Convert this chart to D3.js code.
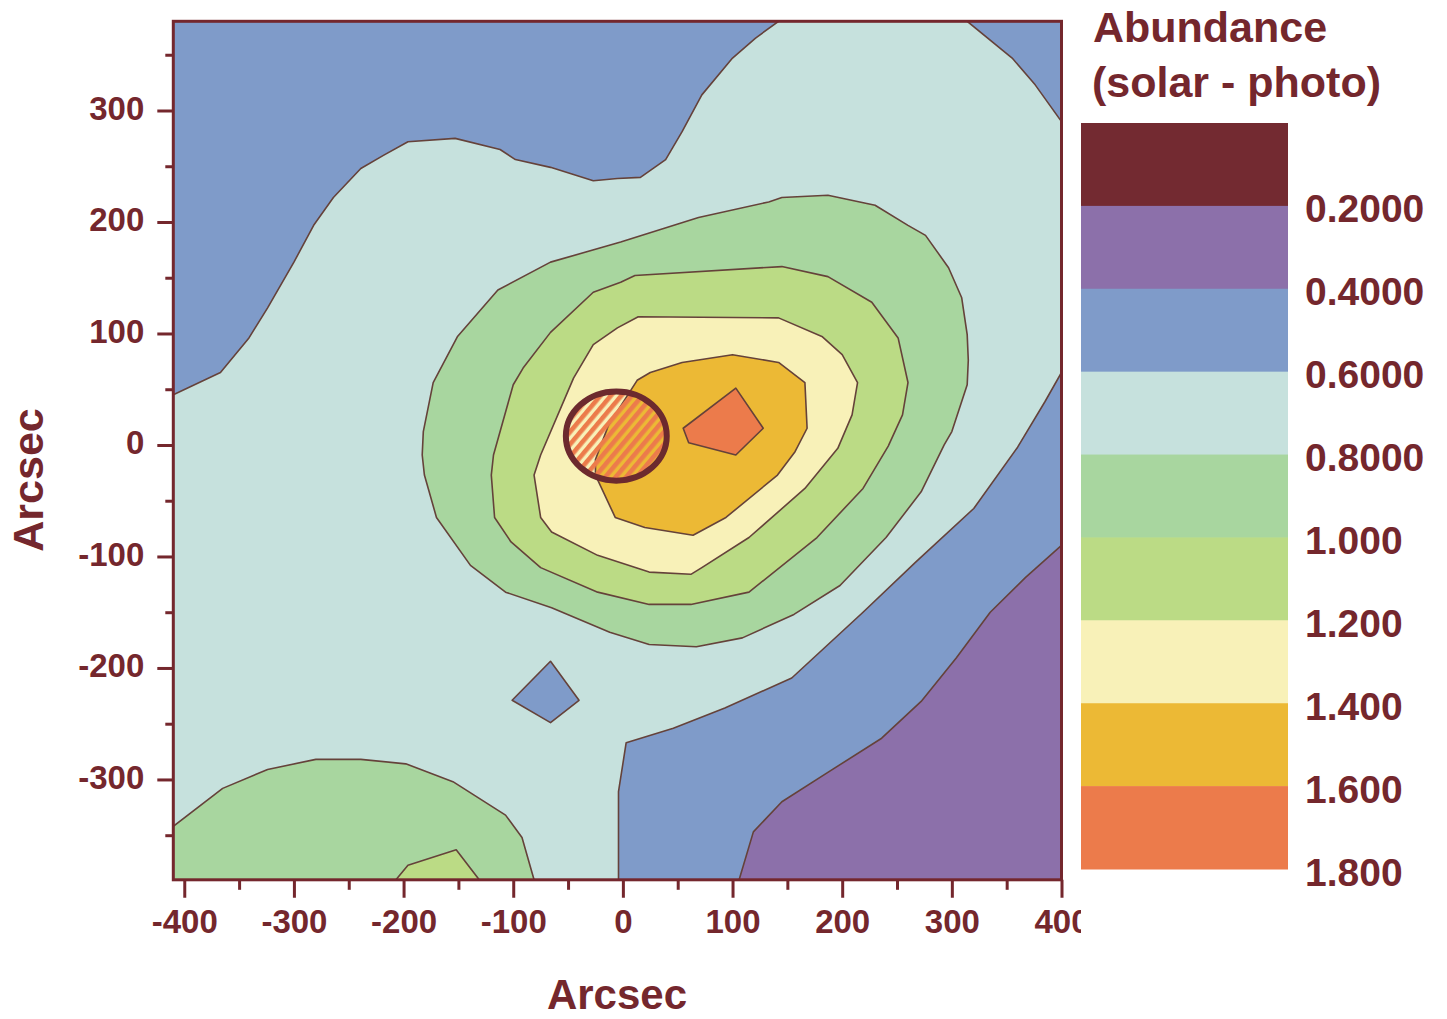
<!DOCTYPE html>
<html>
<head>
<meta charset="utf-8">
<script src="https://cdnjs.cloudflare.com/ajax/libs/d3/7.8.5/d3.min.js"></script>
<style>
  body { margin: 0; background: #fff; }
  svg { display: block; font-family: "Liberation Sans", Arial, sans-serif; font-weight: bold; }
</style>
</head>
<body>
<svg id="chart" width="1447" height="1019"></svg>
<script>
// colour levels (legend runs top to bottom)
const levelBreaks = [0.2, 0.4, 0.6, 0.8, 1.0, 1.2, 1.4, 1.6];
const levelColors = ["#732a31", "#8c70aa", "#7f9bc9", "#c6e1dd", "#a8d69f", "#bbdb85", "#f8f1b8", "#ecb935", "#ec7b4b"];
const legendLabels = ["0.2000", "0.4000", "0.6000", "0.8000", "1.000", "1.200", "1.400", "1.600", "1.800"];

const xTicks = [-400, -300, -200, -100, 0, 100, 200, 300, 400];
const xMinor = [-350, -250, -150, -50, 50, 150, 250, 350];
const yTicks = [-300, -200, -100, 0, 100, 200, 300];
const yMinor = [-350, -250, -150, -50, 50, 150, 250, 350];

// contour outlines, in arcsec
const field = [[-410, -390], [-410, 380], [400, 380], [400, -390]];
const contour06 = [[-410, -390], [-410, 45], [-367, 65], [-341, 96], [-324, 123], [-300, 164], [-282, 197],
  [-264, 222], [-239, 248], [-218, 260], [-196, 272], [-153, 275], [-112, 265], [-98, 256], [-66, 249],
  [-27, 237], [-5, 239], [16, 240], [39, 256], [54, 281], [72, 314], [100, 347], [121, 365], [142, 380],
  [314, 380], [355, 347], [376, 323], [400, 290], [400, 65], [385, 39], [360, -2], [320, -57], [267, -105],
  [219, -150], [154, -209], [93, -236], [46, -254], [3, -267], [-4, -311], [-4, -390]];
const contour04 = [[400, -90], [367, -119], [335, -150], [304, -191], [272, -230], [236, -263], [188, -293],
  [145, -320], [119, -347], [106, -390], [400, -390]];
const dip06 = [[-66, -194], [-40, -229], [-66, -249], [-101, -229]];
const south08 = [[-410, -390], [-410, -342], [-365, -308], [-324, -291], [-280, -282], [-239, -282],
  [-198, -286], [-155, -302], [-107, -332], [-92, -352], [-81, -390]];
const south10 = [[-207, -390], [-196, -377], [-152, -363], [-131, -390]];
const core08 = [[-2, 182], [69, 204], [133, 218], [145, 222], [187, 224], [230, 215], [260, 197], [276, 188],
  [297, 159], [309, 132], [314, 99], [315, 76], [314, 54], [300, 12], [293, 0], [272, -42], [240, -83],
  [198, -126], [156, -152], [109, -173], [67, -181], [24, -179], [-12, -168], [-65, -146], [-107, -132],
  [-139, -108], [-170, -65], [-181, -27], [-183, -9], [-182, 12], [-173, 56], [-151, 97], [-114, 139], [-66, 164]];
const core10 = [[-2, 146], [11, 152], [145, 160], [187, 151], [227, 128], [251, 96], [260, 56], [255, 27],
  [242, -1], [219, -39], [177, -83], [115, -132], [62, -143], [24, -143], [-23, -132], [-75, -110],
  [-102, -87], [-117, -65], [-120, -27], [-118, -9], [-100, 54], [-91, 69], [-66, 101], [-27, 137]];
const core12 = [[14, 115], [142, 114], [182, 97], [200, 81], [214, 56], [209, 27], [196, -3], [166, -39],
  [115, -83], [72, -110], [62, -116], [24, -114], [-23, -99], [-65, -78], [-75, -65], [-81, -27], [-75, -9],
  [-45, 60], [-27, 90], [-5, 105]];
const core14 = [[13, 58], [25, 65], [54, 74], [100, 81], [142, 74], [166, 56], [168, 15], [157, -6], [141, -27],
  [94, -65], [64, -81], [20, -74], [-7, -65], [-25, -27], [-25, -13], [-13, 18]];
const core16 = [[103, 51], [128, 15], [103, -9], [60, 2], [55, 15]];

// hatched field-of-view marker
const fovCentre = [-6, 8];
const fovRadius = [46, 40];

const layers = [
  { pts: field, v: 0.5, line: false },
  { pts: contour06, v: 0.7 },
  { pts: contour04, v: 0.3 },
  { pts: dip06, v: 0.5 },
  { pts: south08, v: 0.9 },
  { pts: south10, v: 1.1 },
  { pts: core08, v: 0.9 },
  { pts: core10, v: 1.1 },
  { pts: core12, v: 1.3 },
  { pts: core14, v: 1.5 },
  { pts: core16, v: 1.7 }
];

const ink = "#74272d";
const svg = d3.select("#chart");
const x = d3.scaleLinear().domain([-410, 400]).range([173.3, 1061.5]);
const y = d3.scaleLinear().domain([-390, 380]).range([879.8, 21.3]);
const color = d3.scaleThreshold().domain(levelBreaks).range(levelColors);

const defs = svg.append("defs");
defs.append("clipPath").attr("id", "plotClip")
  .append("rect")
  .attr("x", x(-410)).attr("y", y(380))
  .attr("width", x(400) - x(-410)).attr("height", y(-390) - y(380));

const hatch = defs.append("pattern")
  .attr("id", "hatch")
  .attr("patternUnits", "userSpaceOnUse")
  .attr("width", 8).attr("height", 8)
  .attr("patternTransform", "rotate(40)");
hatch.append("rect").attr("x", 0).attr("y", 0).attr("width", 4.6).attr("height", 8)
  .attr("fill", levelColors[8]);

const line = d3.line().x(d => x(d[0])).y(d => y(d[1])).curve(d3.curveLinearClosed);

const map = svg.append("g").attr("clip-path", "url(#plotClip)");
map.selectAll("path.level").data(layers)
  .join("path")
  .attr("class", "level")
  .attr("d", d => line(d.pts))
  .attr("fill", d => color(d.v))
  .attr("stroke", d => d.line === false ? "none" : "#65423a")
  .attr("stroke-width", 1.6)
  .attr("stroke-linejoin", "round");

map.append("ellipse")
  .attr("cx", x(fovCentre[0])).attr("cy", y(fovCentre[1]))
  .attr("rx", x(fovRadius[0]) - x(0)).attr("ry", y(0) - y(fovRadius[1]))
  .attr("fill", "url(#hatch)")
  .attr("stroke", "#6c2a2e")
  .attr("stroke-width", 6);

// axes
const fmt = d => String(d);
const xAxis = svg.append("g")
  .attr("transform", `translate(0,${y(-390)})`);
defs.append("clipPath").attr("id", "xLabelClip")
  .append("rect").attr("x", 0).attr("y", -20).attr("width", 1081).attr("height", 200);
xAxis.append("g").attr("clip-path", "url(#xLabelClip)")
  .call(d3.axisBottom(x).tickValues(xTicks).tickSize(18).tickPadding(12).tickFormat(fmt));
xAxis.append("g")
  .call(d3.axisBottom(x).tickValues(xMinor).tickSize(10).tickFormat(""));

const yAxis = svg.append("g")
  .attr("transform", `translate(${x(-410)},0)`);
yAxis.append("g")
  .call(d3.axisLeft(y).tickValues(yTicks).tickSize(16).tickPadding(13).tickFormat(fmt));
yAxis.append("g")
  .call(d3.axisLeft(y).tickValues(yMinor).tickSize(8).tickFormat(""));

svg.selectAll(".domain").remove();
svg.selectAll(".tick line").attr("stroke", ink).attr("stroke-width", 3);
svg.selectAll(".tick text")
  .attr("fill", ink)
  .style("font-size", "33px")
  .style("font-family", "'Liberation Sans', Arial, sans-serif")
  .style("font-weight", "bold");
yAxis.selectAll(".tick text").attr("dy", "0.27em");

// frame
svg.append("rect")
  .attr("x", x(-410)).attr("y", y(380))
  .attr("width", x(400) - x(-410)).attr("height", y(-390) - y(380))
  .attr("fill", "none")
  .attr("stroke", ink)
  .attr("stroke-width", 3);

// axis titles
svg.append("text")
  .attr("x", 617).attr("y", 1009)
  .attr("text-anchor", "middle")
  .attr("fill", ink)
  .style("font-size", "42px")
  .text("Arcsec");
svg.append("text")
  .attr("transform", "translate(43,480) rotate(-90)")
  .attr("text-anchor", "middle")
  .attr("fill", ink)
  .style("font-size", "43px")
  .text("Arcsec");

// colour legend
const band = d3.scaleBand().domain(d3.range(levelColors.length)).range([123, 869]);
const legend = svg.append("g");
legend.append("text").attr("x", 1093).attr("y", 42).attr("fill", ink)
  .style("font-size", "43px").text("Abundance");
legend.append("text").attr("x", 1092).attr("y", 97).attr("fill", ink)
  .style("font-size", "43px").text("(solar - photo)");
legend.selectAll("rect.key").data(levelColors)
  .join("rect")
  .attr("class", "key")
  .attr("x", 1081).attr("width", 207)
  .attr("y", (d, i) => band(i))
  .attr("height", band.bandwidth() + 0.5)
  .attr("fill", d => d);
legend.selectAll("text.key").data(legendLabels)
  .join("text")
  .attr("class", "key")
  .attr("x", 1305)
  .attr("y", (d, i) => band(i) + band.bandwidth() + 16.5)
  .attr("fill", ink)
  .style("font-size", "39px")
  .text(d => d);
</script>
</body>
</html>
